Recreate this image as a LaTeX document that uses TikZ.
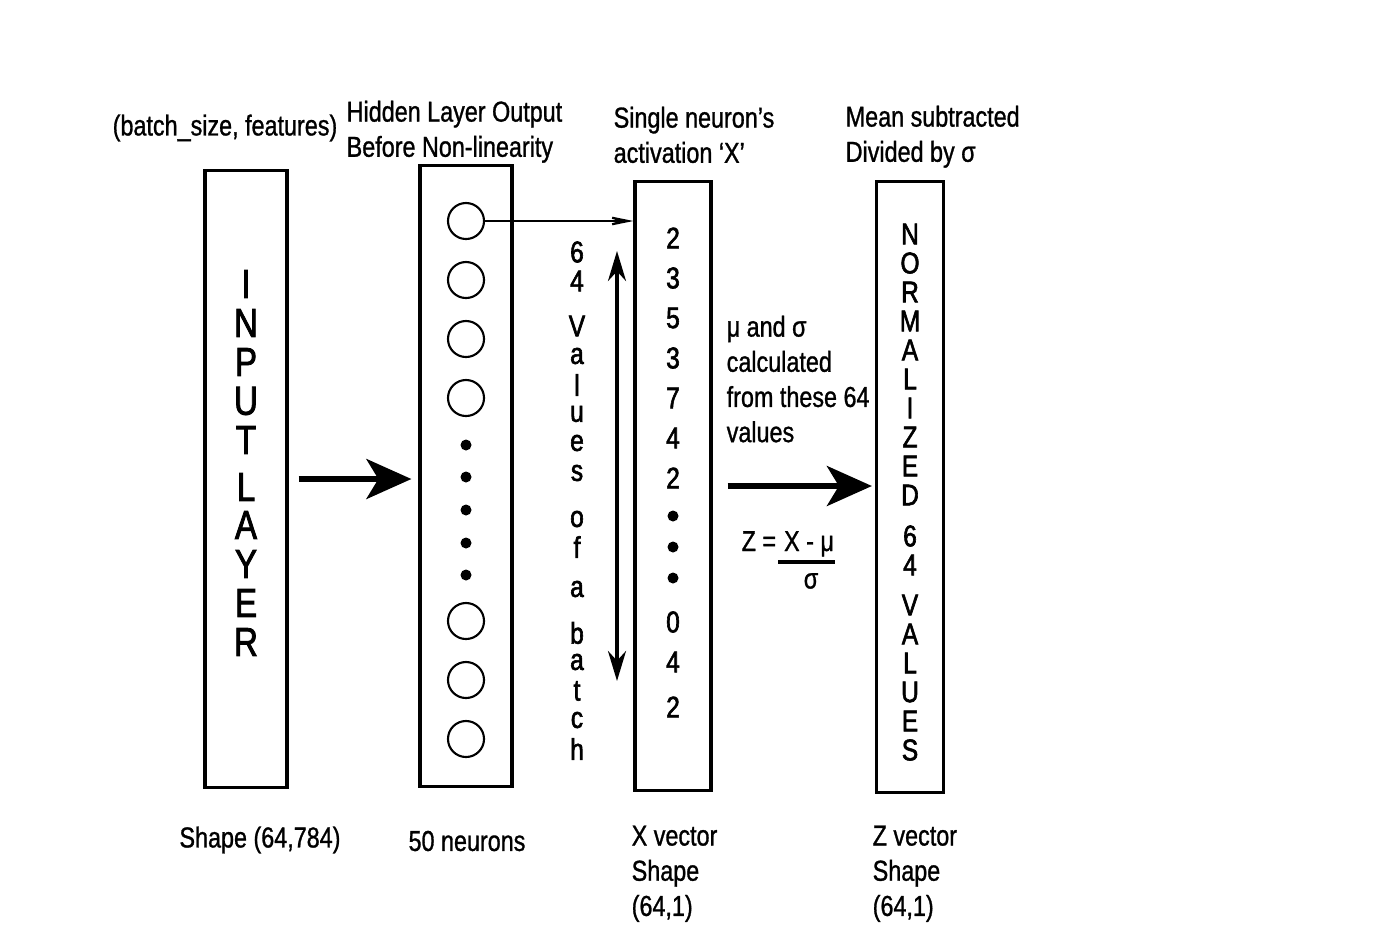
\documentclass[tikz,border=0pt]{standalone}
\usepackage{fontspec}
\setmainfont{Liberation Sans}[FakeStretch=0.81,FakeBold=1]
\newfontfamily\stackfont{Liberation Sans}[FakeStretch=0.82,FakeBold=2]
\usetikzlibrary{arrows.meta,positioning}

\tikzset{
  layerbox/.style={draw,line width=0.9pt,inner sep=0pt},
  neuron/.style={draw,circle,line width=0.6pt,minimum size=0.36cm,inner sep=0pt},
  dotnode/.style={fill,circle,inner sep=0pt,minimum size=0.11cm},
  lbl/.style={font=\fontsize{8.2}{10}\selectfont,inner sep=0pt},
  stackch/.style={font=\stackfont\fontsize{8.5}{10}\selectfont,inner sep=0pt},
  bigch/.style={font=\stackfont\fontsize{11.5}{12}\selectfont,inner sep=0pt},
  bigarrow/.style={line width=1.5pt,-{Stealth[length=0.45cm,width=0.4cm,inset=0.12cm]}},
}

\begin{document}
\begin{tikzpicture}[x=0.01cm,y=-0.01cm]
  \useasboundingbox (0,0) rectangle (1400,933);

  % the four columns
  \node[layerbox,minimum width=0.82cm,minimum height=6.16cm] (inp) at (246,479) {};
  \node[layerbox,minimum width=0.92cm,minimum height=6.20cm] (hid) at (466,476) {};
  \node[layerbox,minimum width=0.76cm,minimum height=6.08cm] (xvec) at (673,486) {};
  \node[layerbox,minimum width=0.67cm,minimum height=6.11cm] (zvec) at (910,487) {};

  % input layer letters
  \foreach \y/\c in {284/I,323/N,362/P,401/U,440/T,487/L,525/A,564/Y,603/E,642/R}
    \node[bigch] at (246,\y) {\c};

  % neurons
  \foreach \i/\y in {1/221,2/280,3/339,4/398,5/621,6/680,7/739}
    \node[neuron] (n\i) at (466,\y) {};
  \foreach \i/\y in {1/445,2/477,3/510,4/543,5/575}
    \node[dotnode] (hd\i) at (466,\y) {};

  % one neuron feeds the x vector
  \draw[line width=0.6pt,-{Stealth[length=0.44cm,width=0.18cm,inset=0.3cm]}]
    (n1.east) -- (n1.east -| xvec.west);

  % batch label
  \foreach \y/\c in {252/6,281/4,326/V,356/a,385/l,414/u,443/e,473/s,519/o,547/f,589/a,633/b,662/a,691/t,720/c,749/h}
    \node[stackch] at (577,\y) {\c};
  \coordinate (vtop) at (617,251);
  \coordinate (vbot) at (617,681);
  \draw[line width=1pt,{Stealth[length=0.3cm,width=0.18cm]}-{Stealth[length=0.3cm,width=0.18cm]}]
    (vtop) -- (vbot);

  % x values
  \foreach \y/\v in {238/2,278/3,318/5,358/3,398/7,438/4,478/2,622/0,662/4,707/2}
    \node[stackch] at (673,\y) {\v};
  \foreach \i/\y in {1/516,2/547,3/578}
    \node[dotnode] (xd\i) at (673,\y) {};

  % normalized values
  \foreach \y/\c in {234/N,263/O,292/R,321/M,350/A,379/L,408/I,437/Z,466/E,495/D,536/6,565/4,605/V,634/A,663/L,692/U,721/E,750/S}
    \node[stackch] at (910,\y) {\c};

  % big arrows
  \draw[bigarrow,shorten <=0.1cm,shorten >=0.07cm] (inp.east) -- (inp.east -| hid.west);
  \draw[bigarrow,shorten <=0.15cm,shorten >=0.03cm] (xvec.east) -- (xvec.east -| zvec.west);

  % formula
  \node[lbl,align=left,anchor=north west] (stats) at (726,315)
    {μ and σ\\calculated\\from these 64\\values};
  \node[lbl,anchor=base west] (zeq) at (741,551) {Z =};
  \node[lbl,anchor=base] (num) at (809,551) {X - μ};
  \draw[line width=0.9pt] ([xshift=-0.05cm]num.base west |- 0,562)
    -- (num.base east |- 0,562);
  \node[lbl] (den) at (811,581) {σ};

  % titles
  \node[lbl] (tinp) at (225,128) {(batch\_size, features)};
  \node[lbl,align=left,anchor=north west] (thid) at (346,100)
    {Hidden Layer Output\\Before Non-linearity};
  \node[lbl,align=left,anchor=north west] (txvec) at (613,106)
    {Single neuron’s\\activation ‘X’};
  \node[lbl,align=left,anchor=north west] (tzvec) at (845,105)
    {Mean subtracted\\Divided by σ};

  % shapes below
  \node[lbl] (binp) at (260,840) {Shape (64,784)};
  \node[lbl] (bhid) at (467,841) {50 neurons};
  \node[lbl,align=left,anchor=north west] (bxvec) at (631,825)
    {X vector\\Shape\\(64,1)};
  \node[lbl,align=left,anchor=north west] (bzvec) at (872,825)
    {Z vector\\Shape\\(64,1)};
\end{tikzpicture}
\end{document}
